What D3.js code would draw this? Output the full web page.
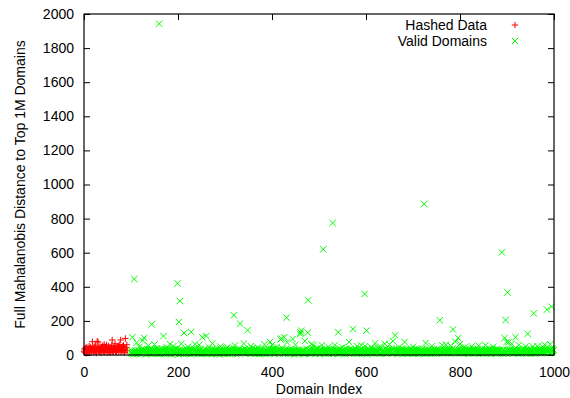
<!DOCTYPE html>
<html>
<head>
<meta charset="utf-8">
<script src="https://cdn.jsdelivr.net/npm/d3@7"></script>
<style>
    body { margin: 0; background: white; }
    svg text { font-family: "Liberation Sans", Arial, sans-serif; }
</style>
</head>
<body>
<div id="chart"></div>
<script>

// hashed data, domain index 0..n-1
var hashedValues = [22,35,14,41,28,9,47,31,19,38,26,52,17,33,44,12,29,40,78,24,36,15,49,27,58,21,34,11,80,39,
    76,25,43,18,51,30,13,46,23,37,55,20,32,62,16,42,27,48,59,14,35,26,53,19,40,31,12,45,28,57,
    88,22,38,17,50,33,66,24,41,15,47,29,36,54,20,43,61,26,88,18,39,32,50,23,57,45,14,34,97,28,
    44,60,25];

// valid domains start at this index
var validStart = 100;

// bulk of the valid domain distances (index validStart + i)
var validBase = [
    12,25,8,31,17,4,22,36,14,9,27,19,33,6,21,15,28,11,38,24,7,18,30,13,26,5,20,34,10,23,
    16,29,3,21,35,12,8,26,19,32,14,6,24,37,11,28,17,9,30,22,4,15,27,13,40,18,7,25,33,10,
    20,6,31,14,23,9,36,17,28,12,5,26,19,34,8,22,15,29,11,39,24,7,18,32,13,27,4,21,16,30,
    9,24,17,33,6,28,14,21,38,11,26,3,19,31,15,8,25,35,12,22,29,5,17,42,10,27,14,20,7,32,
    27,13,22,8,30,16,25,4,19,34,12,28,9,23,37,15,6,31,18,26,11,33,20,7,24,14,29,10,36,17,
    5,19,32,14,26,10,21,35,8,17,29,13,24,6,30,18,39,11,22,15,27,4,33,20,9,25,16,31,12,28,
    18,30,11,25,7,34,15,22,28,3,19,36,13,27,9,24,16,32,6,21,14,29,10,38,17,23,8,26,35,12,
    23,8,27,16,33,12,20,6,29,15,37,10,25,18,4,31,22,13,27,9,34,19,5,24,15,30,11,21,28,14,
    11,26,17,35,9,22,30,14,5,28,19,24,12,33,7,20,27,16,41,10,23,15,29,6,36,18,25,8,31,20,
    29,14,6,24,18,31,10,27,21,13,35,8,17,26,32,11,19,4,28,23,14,37,9,20,30,16,7,25,12,33,
    7,21,28,12,36,17,5,23,30,15,9,26,20,34,13,27,8,22,16,31,11,25,39,14,6,29,18,24,10,32,
    19,33,10,26,15,8,30,22,13,28,6,35,18,24,11,29,16,3,27,21,34,12,20,9,25,31,14,7,28,17,
    25,9,34,16,22,29,12,5,27,19,31,14,8,36,21,17,26,10,30,13,23,6,33,18,28,11,20,38,15,24,
    14,28,20,7,31,24,16,37,11,26,18,4,29,13,22,33,9,25,17,30,12,27,19,35,8,23,15,32,10,26,
    31,6,22,29,13,18,33,9,25,16,28,11,35,20,7,24,30,14,19,27,5,32,17,23,12,38,21,9,26,15,
    10,24,17,32,21,5,27,14,36,19,12,30,23,8,26,15,34,11,28,20,16,31,7,25,18,29,13,22,35,9,
    22,35,13,19,8,28,24,11,31,17,26,6,33,15,21,29,10,37,14,23,18,27,4,30,20,12,36,16,25,11,
    17,12,29,24,33,9,20,15,27,7,34,22,18,30,11,25,14,38,19,6,28,13,32,21,9,26,16,23,31,14,
    28,19,7,35,14,26,11,31,18,24,9,29,16,21,36,12,27,20,8,33,15,25,10,30,22,17,34,6,24,19,
    13,30,24,10,27,16,38,21,6,32,15,25,12,28,19,9,35,14,23,29,7,26,18,31,11,36,20,15,27,8,
    26,11,18,31,22,14,9,29,24,35,12,20,27,7,33,16,25,13,30,18,37,10,22,15,28,6,32,19,24,13,
    8,27,33,15,20,29,17,6,26,13,31,19,23,10,28,35,14,21,9,30,16,25,34,12,19,27,8,23,30,16,
    20,15,26,9,36,12,23,30,16,21,7,34,14,27,18,11,29,24,32,15,20,8,28,17,35,13,26,10,22,31,
    34,22,12,28,17,25,6,33,19,10,27,15,30,21,13,38,16,24,8,29,19,14,36,11,25,20,30,7,18,27,
    15,29,21,11,30,7,26,18,35,14,23,32,9,25,17,28,12,31,20,6,34,22,15,27,10,24,33,16,21,12,
    24,10,35,19,14,31,22,13,28,8,20,26,37,12,29,18,5,27,16,33,11,23,19,30,14,28,9,25,35,17,
    11,32,16,27,23,9,30,17,21,34,14,25,6,31,19,24,13,36,10,22,28,15,26,8,33,20,12,29,17,23,
    30,18,25,7,29,20,14,35,11,27,16,22,31,13,8,26,33,19,24,12,30,17,9,28,21,15,37,10,25,20,
    16,26,9,33,18,24,29,12,22,17,36,8,27,15,23,30,11,20,34,14,26,7,31,18,24,13,29,21,16,32,
    21,13,30,20,10,34,17,26,15,31,19,12,28,23,35,9,25,18,30,11,27,16,22,33,14,29,18,36,24,30
];

// larger distances, [domain index, distance]
var validPeaks = [
    [103,104],[107,445],[112,72],[118,48],[125,85],[128,100],[137,55],[144,180],[150,62],[160,1943],
    [169,111],[176,45],[183,63],[190,52],[199,420],[202,194],[204,317],[207,66],[213,129],[221,48],
    [228,135],[236,63],[245,58],[252,104],[260,111],[266,44],[273,68],[290,50],[305,46],[319,233],
    [321,56],[332,184],[340,67],[348,145],[355,52],[370,44],[384,63],[396,76],[400,58],[410,47],
    [418,91],[420,97],[426,104],[431,219],[432,74],[444,94],[450,60],[460,123],[461,131],[462,143],
    [470,82],[476,131],[477,321],[484,63],[488,57],[495,42],[506,57],[509,620],[520,48],[529,774],
    [534,57],[541,133],[550,45],[564,76],[572,152],[581,52],[590,58],[597,358],[598,52],[601,143],
    [612,44],[619,68],[630,50],[640,66],[650,62],[657,82],[662,115],[670,45],[682,76],[700,48],
    [724,886],[727,70],[740,52],[757,204],[762,57],[770,60],[780,55],[785,150],[790,78],[796,100],
    [800,64],[810,46],[825,51],[840,55],[854,57],[870,48],[889,602],[895,100],[897,205],[899,76],
    [901,367],[903,74],[910,66],[918,104],[925,58],[940,50],[944,124],[955,50],[957,244],[965,52],
    [977,45],[980,60],[985,266],[992,63],[995,283],[999,30]
];

var xTicks = [0, 200, 400, 600, 800, 1000];
var yTicks = [0, 200, 400, 600, 800, 1000, 1200, 1400, 1600, 1800, 2000];
var seriesNames = ["Hashed Data", "Valid Domains"];


ScatterChart = function(container){

    this.container = container;

    this.config = {
        full_width: 570,
        full_height: 398,
        margin: {left: 84, right: 16, top: 14, bottom: 43},
        hashed_color: "#ff0000",
        valid_color: "#00ff00",
        font_size: "14px"
    };

    this._init();

};

ScatterChart.prototype._init = function(){

    this._prepare_data();
    this._build_graph();
    this._draw_axes();
    this._draw_points();
    this._draw_border();
    this._draw_labels();
    this._draw_legend();

};

ScatterChart.prototype._prepare_data = function(){

    var peakMap = new Map(validPeaks);

    this.hashed = hashedValues.map(function(v, i){ return {x: i, y: v}; });

    this.valid = validBase.map(function(v, i){
        var idx = validStart + i;
        return {x: idx, y: peakMap.has(idx) ? peakMap.get(idx) : v};
    });

};

ScatterChart.prototype._build_graph = function(){

    var config = this.config;

    this.width = config.full_width - config.margin.left - config.margin.right;
    this.height = config.full_height - config.margin.top - config.margin.bottom;

    this._svg = d3.select(this.container)
        .append("svg")
        .attr("width", config.full_width)
        .attr("height", config.full_height);

    this._chart = this._svg
        .append("g")
        .attr("transform", "translate(" + config.margin.left + "," + config.margin.top + ")");

    this.x = d3.scaleLinear().domain([0, 1000]).range([0, this.width]);
    this.y = d3.scaleLinear().domain([0, 2000]).range([this.height, 0]);

};

ScatterChart.prototype._draw_axes = function(){

    var self = this;
    var fs = this.config.font_size;
    var fmt = d3.format("d");

    var style_axis = function(g){
        g.select(".domain").remove();
        g.selectAll(".tick line").attr("stroke", "#000");
        g.selectAll("text")
            .attr("fill", "#000")
            .style("font-size", fs)
            .style("font-family", "'Liberation Sans', Arial, sans-serif");
    };

    this._chart.append("g")
        .attr("transform", "translate(0," + this.height + ")")
        .call(d3.axisBottom(self.x).tickValues(xTicks).tickFormat(fmt).tickSizeInner(-6).tickSizeOuter(0).tickPadding(12))
        .call(style_axis);

    this._chart.append("g")
        .call(d3.axisLeft(self.y).tickValues(yTicks).tickFormat(fmt).tickSizeInner(-6).tickSizeOuter(0).tickPadding(10))
        .call(style_axis);

    // mirrored ticks on top and right
    this._chart.append("g")
        .call(d3.axisTop(self.x).tickValues(xTicks).tickSizeInner(-6).tickSizeOuter(0).tickFormat(""))
        .call(style_axis);

    this._chart.append("g")
        .attr("transform", "translate(" + this.width + ",0)")
        .call(d3.axisRight(self.y).tickValues(yTicks).tickSizeInner(-6).tickSizeOuter(0).tickFormat(""))
        .call(style_axis);

};

ScatterChart.prototype._draw_points = function(){

    var self = this;
    var s = 3.2;

    var plus = "M" + (-s) + ",0H" + s + "M0," + (-s) + "V" + s;
    var cross = "M" + (-s) + "," + (-s) + "L" + s + "," + s + "M" + (-s) + "," + s + "L" + s + "," + (-s);

    this._chart.append("g")
        .selectAll("path")
        .data(this.hashed)
        .enter()
        .append("path")
        .attr("d", plus)
        .attr("transform", function(d){ return "translate(" + self.x(d.x) + "," + self.y(d.y) + ")"; })
        .attr("fill", "none")
        .attr("stroke", this.config.hashed_color)
        .attr("stroke-width", 1);

    this._chart.append("g")
        .selectAll("path")
        .data(this.valid)
        .enter()
        .append("path")
        .attr("d", cross)
        .attr("transform", function(d){ return "translate(" + self.x(d.x) + "," + self.y(d.y) + ")"; })
        .attr("fill", "none")
        .attr("stroke", this.config.valid_color)
        .attr("stroke-width", 1);

    this.plus = plus;
    this.cross = cross;

};

ScatterChart.prototype._draw_border = function(){

    this._chart.append("rect")
        .attr("x", 0)
        .attr("y", 0)
        .attr("width", this.width)
        .attr("height", this.height)
        .attr("fill", "none")
        .attr("stroke", "#000")
        .attr("stroke-width", 1.2);

};

ScatterChart.prototype._draw_labels = function(){

    var fs = this.config.font_size;

    this._chart.append("text")
        .attr("x", this.width / 2)
        .attr("y", this.height + 39)
        .attr("text-anchor", "middle")
        .style("font-size", fs)
        .text("Domain Index");

    this._chart.append("text")
        .attr("transform", "translate(-59," + (this.height / 2) + ") rotate(-90)")
        .attr("text-anchor", "middle")
        .style("font-size", fs)
        .text("Full Mahalanobis Distance to Top 1M Domains");

};

ScatterChart.prototype._draw_legend = function(){

    var fs = this.config.font_size;
    var colors = [this.config.hashed_color, this.config.valid_color];
    var symbols = [this.plus, this.cross];

    var legend = this._svg.append("g")
        .selectAll("g")
        .data(seriesNames)
        .enter()
        .append("g")
        .attr("transform", function(d, i){ return "translate(0," + (25 + i * 16) + ")"; });

    legend.append("text")
        .attr("x", 487)
        .attr("dy", "0.35em")
        .attr("text-anchor", "end")
        .style("font-size", fs)
        .text(function(d){ return d; });

    legend.append("path")
        .attr("transform", "translate(515,0)")
        .attr("d", function(d, i){ return symbols[i]; })
        .attr("fill", "none")
        .attr("stroke", function(d, i){ return colors[i]; })
        .attr("stroke-width", 1);

};

new ScatterChart("#chart");

</script>
</body>
</html>
